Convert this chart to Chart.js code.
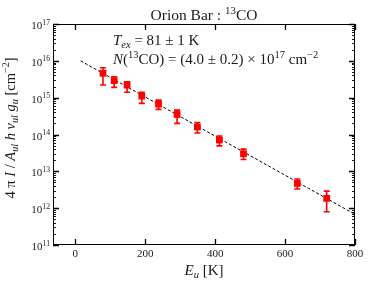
<!DOCTYPE html>
<html>
<head>
<meta charset="utf-8">
<script src="https://cdn.jsdelivr.net/npm/chart.js@4"></script>
<style>
  html, body { margin: 0; padding: 0; background: #fff; }
  #wrap { width: 374px; height: 288px; }
</style>
</head>
<body>
<div id="wrap"><canvas id="c" width="374" height="288"></canvas></div>
<script>
// ---- data ----
const energies = [79, 111, 148, 190, 238, 291, 349, 412, 481, 635, 719];
const values   = [4.6e15, 2.9e15, 2.2e15, 1.1e15, 6.7e14, 3.5e14, 1.6e14, 7.1e13, 3.0e13, 4.7e12, 1.85e12];
const errLow   = [2.2e15, 1.9e15, 1.4e15, 7.0e14, 4.8e14, 2.0e14, 1.1e14, 4.9e13, 2.1e13, 3.3e12, 8.0e11];
const errHigh  = [6.5e15, 3.7e15, 2.7e15, 1.4e15, 8.6e14, 4.6e14, 2.1e14, 9.1e13, 4.0e13, 6.2e12, 2.9e12];
const fitE     = [15, 800];
const fitN     = [1.0e16, 6.8e11];
const xTicks   = [0, 200, 400, 600, 800];
const yExps    = [11, 12, 13, 14, 15, 16, 17];

const FAMILY = '"Liberation Serif", "DejaVu Serif", serif';
const TXT = '#1a1a1a';

function drawRich(ctx, segs, x, y, size, align) {
  const parts = segs.map(s => {
    const small = s.sub || s.sup;
    const fs = small ? size * 0.7 : size;
    const font = (s.i ? 'italic ' : '') + fs + 'px ' + FAMILY;
    ctx.font = font;
    return { t: s.t, font, w: ctx.measureText(s.t).width,
             dy: s.sub ? size * 0.22 : (s.sup ? -size * 0.4 : 0) };
  });
  const total = parts.reduce((a, p) => a + p.w, 0);
  let cx = align === 'center' ? x - total / 2 : (align === 'right' ? x - total : x);
  ctx.textBaseline = 'alphabetic';
  ctx.textAlign = 'left';
  for (const p of parts) {
    ctx.font = p.font;
    ctx.fillText(p.t, cx, y + p.dy);
    cx += p.w;
  }
}

const decor = {
  id: 'decor',
  beforeDatasetsDraw(chart) {
    const ctx = chart.ctx, xs = chart.scales.x, ys = chart.scales.y;
    ctx.save();
    ctx.strokeStyle = '#ff0000';
    ctx.lineWidth = 1.6;
    for (let i = 0; i < energies.length; i++) {
      const px = xs.getPixelForValue(energies[i]);
      const y1 = ys.getPixelForValue(errLow[i]);
      const y2 = ys.getPixelForValue(errHigh[i]);
      ctx.beginPath();
      ctx.moveTo(px, y1); ctx.lineTo(px, y2);
      ctx.moveTo(px - 3, y1); ctx.lineTo(px + 3, y1);
      ctx.moveTo(px - 3, y2); ctx.lineTo(px + 3, y2);
      ctx.stroke();
    }
    ctx.restore();
  },
  afterDraw(chart) {
    const ctx = chart.ctx, xs = chart.scales.x, ys = chart.scales.y;
    const a = chart.chartArea;
    ctx.save();
    ctx.strokeStyle = '#000';
    ctx.lineWidth = 1;
    ctx.strokeRect(a.left + 0.5, a.top + 0.5, a.right - a.left - 1, a.bottom - a.top - 1);
    ctx.lineWidth = 1.3;
    ctx.beginPath();
    for (const v of xTicks) {
      const px = Math.round(xs.getPixelForValue(v)) + 0.5;
      ctx.moveTo(px, a.bottom); ctx.lineTo(px, a.bottom - 6);
      ctx.moveTo(px, a.top); ctx.lineTo(px, a.top + 6);
    }
    for (const e of yExps) {
      const py = Math.round(ys.getPixelForValue(Math.pow(10, e))) + 0.5;
      ctx.moveTo(a.left, py); ctx.lineTo(a.left + 6, py);
      ctx.moveTo(a.right, py); ctx.lineTo(a.right - 6, py);
    }
    ctx.stroke();
    ctx.lineWidth = 0.9;
    ctx.beginPath();
    for (let k = 0; k < yExps.length - 1; k++) {
      for (let m = 2; m <= 9; m++) {
        const py = Math.round(ys.getPixelForValue(m * Math.pow(10, yExps[k]))) + 0.5;
        ctx.moveTo(a.left, py); ctx.lineTo(a.left + 3, py);
        ctx.moveTo(a.right, py); ctx.lineTo(a.right - 3, py);
      }
    }
    ctx.stroke();

    ctx.fillStyle = TXT;
    for (const e of yExps) {
      const py = ys.getPixelForValue(Math.pow(10, e));
      drawRich(ctx, [{ t: '10' }, { t: String(e), sup: true }], a.left - 3, py + 5, 11, 'right');
    }
    drawRich(ctx, [{ t: 'Orion Bar : ' }, { t: '13', sup: true }, { t: 'CO' }],
      (a.left + a.right) / 2, 20, 15.5, 'center');
    drawRich(ctx, [{ t: 'T', i: true }, { t: 'ex', i: true, sub: true }, { t: ' = 81 \u00b1 1 K' }],
      113, 45, 15, 'left');
    drawRich(ctx, [{ t: 'N', i: true }, { t: '(' }, { t: '13', sup: true },
      { t: 'CO) = (4.0 \u00b1 0.2) \u00d7 10' }, { t: '17', sup: true }, { t: ' cm' }, { t: '\u22122', sup: true }],
      113, 64, 15, 'left');
    drawRich(ctx, [{ t: 'E', i: true }, { t: 'u', i: true, sub: true }, { t: ' [K]' }],
      (a.left + a.right) / 2, 275, 15, 'center');
    ctx.save();
    ctx.translate(15, 128);
    ctx.rotate(-Math.PI / 2);
    drawRich(ctx, [{ t: '4 \u03c0 ' }, { t: 'I', i: true }, { t: ' / ' }, { t: 'A', i: true },
      { t: 'ul', i: true, sub: true }, { t: ' h \u03bd', i: true }, { t: 'ul', i: true, sub: true },
      { t: ' g', i: true }, { t: 'u', i: true, sub: true }, { t: ' [cm' }, { t: '\u22122', sup: true }, { t: ']' }],
      0, 0, 14.5, 'center');
    ctx.restore();
    ctx.restore();
  }
};

new Chart(document.getElementById('c'), {
  type: 'scatter',
  data: {
    datasets: [
      {
        label: 'data',
        data: energies.map((e, i) => ({ x: e, y: values[i] })),
        pointStyle: 'rect',
        pointRadius: 4.8,
        pointHoverRadius: 4.8,
        backgroundColor: '#ff0000',
        borderColor: '#ff0000',
        borderWidth: 0,
        order: 1
      },
      {
        label: 'fit',
        type: 'line',
        data: fitE.map((e, i) => ({ x: e, y: fitN[i] })),
        borderColor: '#000',
        borderWidth: 1,
        borderDash: [3, 2],
        pointRadius: 0,
        fill: false,
        order: 2
      }
    ]
  },
  options: {
    responsive: false,
    animation: false,
    devicePixelRatio: 1,
    layout: { padding: { top: 24, right: 19, left: 0, bottom: 0 } },
    plugins: { legend: { display: false }, tooltip: { enabled: false }, title: { display: false } },
    scales: {
      x: {
        type: 'linear', min: -64, max: 800,
        grid: { display: false, drawTicks: false },
        border: { display: false },
        afterBuildTicks: s => { s.ticks = xTicks.map(v => ({ value: v })); },
        afterFit: s => { s.height = 43; },
        ticks: { padding: 3, color: TXT, font: { family: FAMILY, size: 11 }, maxRotation: 0 }
      },
      y: {
        type: 'logarithmic', min: 1e11, max: 1e17,
        grid: { display: false, drawTicks: false },
        border: { display: false },
        afterBuildTicks: s => { s.ticks = yExps.map(e => ({ value: Math.pow(10, e) })); },
        afterFit: s => { s.width = 53; },
        ticks: { display: false }
      }
    }
  },
  plugins: [decor]
});
</script>
</body>
</html>
